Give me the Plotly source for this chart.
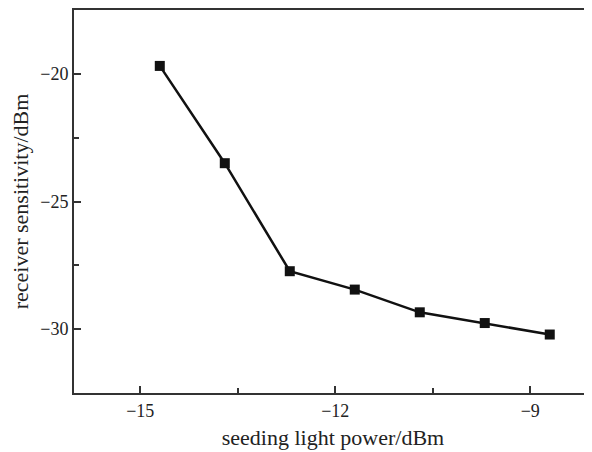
import plotly.graph_objects as go

seeding_power = [-14.7, -13.7, -12.7, -11.7, -10.7, -9.7, -8.7]
sensitivity = [-19.69, -23.5, -27.73, -28.45, -29.34, -29.76, -30.21]

x_ticks = [-15, -12, -9]
y_ticks = [-20, -25, -30]

font_family = "Liberation Serif, Times New Roman, serif"
axis_color = "#333333"

fig = go.Figure()
fig.add_trace(go.Scatter(
    x=seeding_power, y=sensitivity,
    mode="lines+markers",
    line=dict(color="#111111", width=2.5),
    marker=dict(symbol="square", size=10, color="#111111"),
    showlegend=False,
))

# page body adds an 8px offset; size/margins compensate
fig.update_layout(
    width=584, height=444,
    margin=dict(l=66, r=0, t=2, b=59),
    paper_bgcolor="white", plot_bgcolor="white",
    font=dict(family=font_family, size=18, color="#222222"),
    xaxis=dict(
        range=[-16.02, -8.05],
        tickvals=x_ticks,
        ticktext=[f"\u2212{abs(v)}" for v in x_ticks],
        ticks="inside", ticklen=7, tickwidth=1.5, tickcolor=axis_color,
        minor=dict(dtick=1.5, tick0=-15, ticks="inside", ticklen=5, tickwidth=1.5, tickcolor=axis_color),
        showline=True, linecolor=axis_color, linewidth=2, mirror=True,
        showgrid=False, zeroline=False,
        title=dict(text="seeding light power/dBm", standoff=10),
        tickfont=dict(size=18),
    ),
    yaxis=dict(
        range=[-32.5, -17.5],
        tickvals=y_ticks,
        ticktext=[f"\u2212{abs(v)}" for v in y_ticks],
        ticks="inside", ticklen=7, tickwidth=1.5, tickcolor=axis_color,
        minor=dict(dtick=2.5, tick0=-20, ticks="inside", ticklen=5, tickwidth=1.5, tickcolor=axis_color),
        showline=True, linecolor=axis_color, linewidth=2,
        showgrid=False, zeroline=False,
        title=dict(text="receiver sensitivity/dBm", standoff=6),
        tickfont=dict(size=18),
    ),
)

fig.write_html("out.html")
